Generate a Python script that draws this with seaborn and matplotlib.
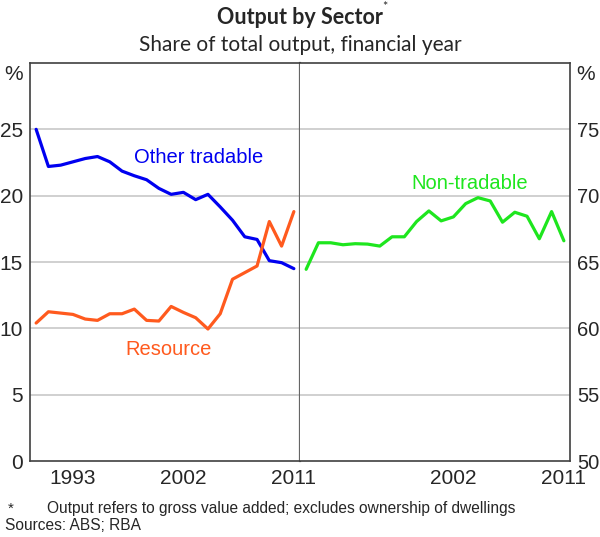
import numpy as np
import pandas as pd
import matplotlib
matplotlib.use("Agg")
import matplotlib.pyplot as plt
import seaborn as sns
from matplotlib.ticker import FixedLocator

# financial years 1990..2011
years = list(range(1990, 2012))

other_tradable = [25.0, 22.2, 22.3, 22.55, 22.8, 22.95, 22.55, 21.85, 21.5, 21.2,
                  20.55, 20.1, 20.25, 19.7, 20.1, 19.15, 18.15, 16.9, 16.7, 15.1,
                  14.95, 14.5]
resource = [10.4, 11.25, 11.15, 11.05, 10.7, 10.6, 11.1, 11.1, 11.45, 10.6,
            10.55, 11.65, 11.2, 10.8, 9.95, 11.1, 13.7, 14.2, 14.7, 18.05,
            16.2, 18.8]
non_tradable = [64.45, 66.45, 66.45, 66.3, 66.38, 66.35, 66.2, 66.9, 66.9, 68.05,
                68.85, 68.1, 68.4, 69.4, 69.85, 69.6, 68.0, 68.75, 68.45, 66.75,
                68.8, 66.6]

left_ticks = [0, 5, 10, 15, 20, 25]
right_ticks = [50, 55, 60, 65, 70, 75]
left_year_labels = [1993, 2002, 2011]
right_year_labels = [2002, 2011]

df = pd.DataFrame({"year": years, "Other tradable": other_tradable,
                   "Resource": resource, "Non-tradable": non_tradable})

sns.set_style("white")
plt.rcParams['font.family'] = ['Liberation Sans', 'DejaVu Sans']

BLUE = "#0000f0"
ORANGE = "#ff5a1e"
GREEN = "#1ee61e"
GRID = "#c4c4c4"
FRAME = "#404040"

fig = plt.figure(figsize=(6.0, 5.37), dpi=100)
ax1 = fig.add_axes([0.05, 0.1415, 0.45, 0.7412])
ax2 = fig.add_axes([0.50, 0.1415, 0.45, 0.7412])

sns.lineplot(data=df, x="year", y="Other tradable", ax=ax1, color=BLUE, lw=2.3)
sns.lineplot(data=df, x="year", y="Resource", ax=ax1, color=ORANGE, lw=2.3)
sns.lineplot(data=df, x="year", y="Non-tradable", ax=ax2, color=GREEN, lw=2.3)

for ax, lo, yt, xl in [(ax1, 0, left_ticks, left_year_labels),
                       (ax2, 50, right_ticks, right_year_labels)]:
    ax.set_xlim(1989.5, 2011.5)
    ax.set_ylim(lo, lo + 30)
    ax.set_xlabel("")
    ax.set_ylabel("")
    for v in yt[1:]:
        ax.axhline(v, color=GRID, lw=1.1, zorder=0)
    ax.xaxis.set_major_locator(FixedLocator(xl))
    ax.xaxis.set_minor_locator(FixedLocator(np.arange(1990.5, 2011, 1)))
    ax.tick_params(axis="x", which="major", length=0, labelsize=15, pad=6)
    ax.tick_params(axis="x", which="minor", direction="in", length=5,
                   width=1, color=FRAME)
    ax.set_yticks(yt)
    for s in ax.spines.values():
        s.set_color(FRAME)
        s.set_linewidth(1.2)

ax1.tick_params(axis="y", length=0, labelsize=15, pad=5)
ax2.yaxis.tick_right()
ax2.tick_params(axis="y", length=0, labelsize=14.5, pad=5)
ax1.spines["right"].set_color("#666666")
ax1.spines["right"].set_linewidth(1.6)
ax2.spines["left"].set_visible(False)

ax1.text(2003.2, 22.85, "Other tradable", color=BLUE, fontsize=14.5,
         ha="center", va="center")
ax1.text(2000.8, 8.4, "Resource", color=ORANGE, fontsize=14.5,
         ha="center", va="center")
ax2.text(2003.3, 70.95, "Non-tradable", color=GREEN, fontsize=14.5,
         ha="center", va="center")

fig.text(14 / 600, 1 - 74 / 537, "%", fontsize=15, ha="center", va="center")
fig.text(586 / 600, 1 - 74 / 537, "%", fontsize=15, ha="center", va="center")

fig.text(0.5, 1 - 17 / 537, "Output by Sector", fontsize=15.5, fontweight="bold",
         ha="center", va="center", family=["Lato", "DejaVu Sans"])
fig.text(382 / 600, 1 - 7 / 537, "*", fontsize=9, ha="left", va="center",
         family=["Lato", "DejaVu Sans"])
fig.text(0.5, 1 - 45 / 537, "Share of total output, financial year", fontsize=15,
         ha="center", va="center", family=["Lato", "DejaVu Sans"])

fig.text(8 / 600, 1 - 509 / 537, "*", fontsize=11, ha="left", va="center")
fig.text(47 / 600, 1 - 509 / 537,
         "Output refers to gross value added; excludes ownership of dwellings",
         fontsize=11.2, ha="left", va="center")
fig.text(5 / 600, 1 - 526 / 537, "Sources: ABS; RBA", fontsize=11.2,
         ha="left", va="center")

fig.savefig("out.png", dpi=100)
